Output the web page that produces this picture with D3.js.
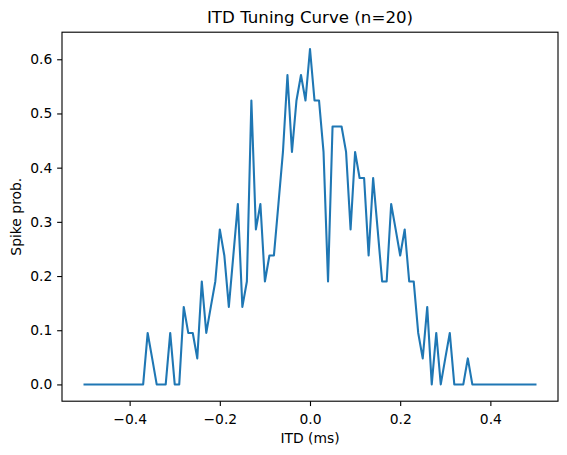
<!DOCTYPE html>
<html>
<head>
<meta charset="utf-8">
<script src="https://cdn.jsdelivr.net/npm/d3@7"></script>
<style>
    body { margin: 0; background: #fff; }
    text { font-family: "DejaVu Sans", sans-serif; fill: #000; }
</style>
</head>
<body>
<div class="chart"></div>
<script>
// Data
const itd = [
    -0.50, -0.49, -0.48, -0.47, -0.46, -0.45, -0.44, -0.43, -0.42, -0.41,
    -0.40, -0.39, -0.38, -0.37, -0.36, -0.35, -0.34, -0.33, -0.32, -0.31,
    -0.30, -0.29, -0.28, -0.27, -0.26, -0.25, -0.24, -0.23, -0.22, -0.21,
    -0.20, -0.19, -0.18, -0.17, -0.16, -0.15, -0.14, -0.13, -0.12, -0.11,
    -0.10, -0.09, -0.08, -0.07, -0.06, -0.05, -0.04, -0.03, -0.02, -0.01,
    0.00, 0.01, 0.02, 0.03, 0.04, 0.05, 0.06, 0.07, 0.08, 0.09,
    0.10, 0.11, 0.12, 0.13, 0.14, 0.15, 0.16, 0.17, 0.18, 0.19,
    0.20, 0.21, 0.22, 0.23, 0.24, 0.25, 0.26, 0.27, 0.28, 0.29,
    0.30, 0.31, 0.32, 0.33, 0.34, 0.35, 0.36, 0.37, 0.38, 0.39,
    0.40, 0.41, 0.42, 0.43, 0.44, 0.45, 0.46, 0.47, 0.48, 0.49,
    0.50
]
const spikeProb = [
    0, 0, 0, 0, 0, 0, 0, 0, 0, 0,
    0, 0, 0, 0, 0.095, 0.048, 0, 0, 0, 0.095,
    0, 0, 0.143, 0.095, 0.095, 0.048, 0.190, 0.095, 0.143, 0.190,
    0.286, 0.238, 0.143, 0.238, 0.333, 0.143, 0.190, 0.524, 0.286, 0.333,
    0.190, 0.238, 0.238, 0.333, 0.429, 0.571, 0.429, 0.524, 0.571, 0.524,
    0.619, 0.524, 0.524, 0.429, 0.190, 0.476, 0.476, 0.476, 0.429, 0.286,
    0.429, 0.381, 0.381, 0.238, 0.381, 0.286, 0.190, 0.190, 0.333, 0.286,
    0.238, 0.286, 0.190, 0.190, 0.095, 0.048, 0.143, 0, 0.095, 0,
    0.048, 0.095, 0, 0, 0, 0.048, 0, 0, 0, 0,
    0, 0, 0, 0, 0, 0, 0, 0, 0, 0,
    0
]
const xTicks = [-0.4, -0.2, 0, 0.2, 0.4]
const yTicks = [0, 0.1, 0.2, 0.3, 0.4, 0.5, 0.6]

// Dimensions
let dimensions = {
    width: 567,
    height: 455,
    left: 62,
    right: 558,
    top: 32.2,
    bottom: 401.2
}
const pt = 100 / 72

// Draw Image
const svg = d3.select('.chart')
    .append('svg')
    .attr('width', dimensions.width)
    .attr('height', dimensions.height)

// 5% margins like matplotlib autoscale
const xPad = 0.05 * (d3.max(itd) - d3.min(itd))
const xScale = d3.scaleLinear()
    .domain([d3.min(itd) - xPad, d3.max(itd) + xPad])
    .range([dimensions.left, dimensions.right])

const yPad = 0.05 * (d3.max(spikeProb) - d3.min(spikeProb))
const yScale = d3.scaleLinear()
    .domain([d3.min(spikeProb) - yPad, d3.max(spikeProb) + yPad])
    .range([dimensions.bottom, dimensions.top])

// Line
const line = d3.line()
    .x((d, i) => xScale(itd[i]))
    .y(d => yScale(d))

svg.append('path')
    .datum(spikeProb)
    .attr('d', line)
    .attr('fill', 'none')
    .attr('stroke', '#1f77b4')
    .attr('stroke-width', 1.5 * pt)
    .attr('stroke-linejoin', 'round')
    .attr('stroke-linecap', 'square')

// Axes
const fmt = d3.format('.1f')

const xAxis = d3.axisBottom(xScale)
    .tickValues(xTicks)
    .tickFormat(fmt)
    .tickSizeInner(3.5 * pt)
    .tickSizeOuter(0)
    .tickPadding(3.5 * pt + 3)

const yAxis = d3.axisLeft(yScale)
    .tickValues(yTicks)
    .tickFormat(fmt)
    .tickSizeInner(3.5 * pt)
    .tickSizeOuter(0)
    .tickPadding(3.5 * pt)

const xAxisGroup = svg.append('g')
    .attr('transform', `translate(0, ${dimensions.bottom})`)
    .call(xAxis)

const yAxisGroup = svg.append('g')
    .attr('transform', `translate(${dimensions.left}, 0)`)
    .call(yAxis)

for (const g of [xAxisGroup, yAxisGroup]) {
    g.select('.domain').remove()
    g.selectAll('.tick line')
        .attr('stroke', '#000')
        .attr('stroke-width', 0.8 * pt)
    g.selectAll('.tick text')
        .attr('font-size', 10 * pt)
        .attr('font-family', '"DejaVu Sans", sans-serif')
        .attr('fill', '#000')
}

// frame (all four spines)
svg.append('rect')
    .attr('x', dimensions.left)
    .attr('y', dimensions.top)
    .attr('width', dimensions.right - dimensions.left)
    .attr('height', dimensions.bottom - dimensions.top)
    .attr('fill', 'none')
    .attr('stroke', '#000')
    .attr('stroke-width', 0.8 * pt)

// Labels
svg.append('text')
    .attr('x', (dimensions.left + dimensions.right) / 2)
    .attr('y', dimensions.top - 6 * pt - 1)
    .attr('text-anchor', 'middle')
    .attr('font-size', 12 * pt)
    .text('ITD Tuning Curve (n=20)')

svg.append('text')
    .attr('x', (dimensions.left + dimensions.right) / 2)
    .attr('y', 443)
    .attr('text-anchor', 'middle')
    .attr('font-size', 10 * pt)
    .text('ITD (ms)')

svg.append('text')
    .attr('transform', `translate(21, ${(dimensions.top + dimensions.bottom) / 2}) rotate(-90)`)
    .attr('text-anchor', 'middle')
    .attr('font-size', 10 * pt)
    .text('Spike prob.')
</script>
</body>
</html>
